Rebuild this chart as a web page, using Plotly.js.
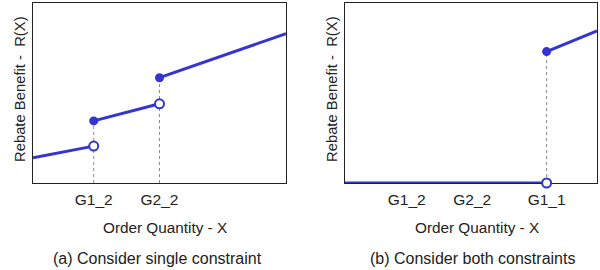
<!DOCTYPE html>
<html><head><meta charset="utf-8">
<script src="https://cdn.plot.ly/plotly-3.0.1.min.js"></script>
<style>html,body{margin:0;padding:0;background:#fff}#c{width:600px;height:270px}</style>
</head><body><div id="c"></div>
<script>
// Panel (a): single constraint
const aTickVals = [24, 50];
const aTickText = ['G1_2', 'G2_2'];
const aSeg1X = [0, 24],  aSeg1Y = [14, 20.5];
const aSeg2X = [24, 50], aSeg2Y = [34.5, 44];
const aSeg3X = [50, 100], aSeg3Y = [58.5, 83];
const aOpenX = [24, 50], aOpenY = [20.5, 44];
const aFillX = [24, 50], aFillY = [34.5, 58.5];

// Panel (b): both constraints
const bTickVals = [24.5, 50.5, 80];
const bTickText = ['G1_2', 'G2_2', 'G1_1'];
const bSeg1X = [0, 80],  bSeg1Y = [0, 0];
const bSeg2X = [80, 100], bSeg2Y = [73, 84.5];
const bOpenX = [80], bOpenY = [0];
const bFillX = [80], bFillY = [73];

const BLUE = '#3434d2';
const traces = [];
function guides(xs, ys, xa, ya){
  xs.forEach((x,i)=>traces.push({x:[x,x], y:[0, ys[i]], mode:'lines', xaxis:xa, yaxis:ya,
    line:{color:'#8a8a8a', width:1, dash:'dot'}, cliponaxis:false, hoverinfo:'skip'}));
}
function seg(x,y,xa,ya){traces.push({x:x,y:y,mode:'lines',xaxis:xa,yaxis:ya,line:{color:BLUE,width:3},cliponaxis:false});}
function pts(x,y,xa,ya,open){traces.push({x:x,y:y,mode:'markers',xaxis:xa,yaxis:ya,cliponaxis:false,
  marker:{size:9,color:open?'#ffffff':BLUE,line:{color:BLUE,width:open?2:0}}});}

guides(aFillX, aFillY, 'x', 'y');
seg(aSeg1X,aSeg1Y,'x','y'); seg(aSeg2X,aSeg2Y,'x','y'); seg(aSeg3X,aSeg3Y,'x','y');
pts(aFillX,aFillY,'x','y',false); pts(aOpenX,aOpenY,'x','y',true);

guides(bFillX, bFillY, 'x2', 'y2');
seg(bSeg1X,bSeg1Y,'x2','y2'); seg(bSeg2X,bSeg2Y,'x2','y2');
pts(bFillX,bFillY,'x2','y2',false); pts(bOpenX,bOpenY,'x2','y2',true);

const FONT = 'Liberation Sans, Arial, sans-serif';
const axBase = {showline:true, mirror:true, linecolor:'#222', linewidth:1, showgrid:false, zeroline:false,
  ticks:'', layer:'below traces', ticklabelstandoff:2, tickfont:{family:FONT, size:15.5, color:'#222'}, fixedrange:true};
const yDom = [87/270, 267/270];
function ann(text, px, py, size, angle){
  return {text:text, x:px/600, y:1-py/270, xref:'paper', yref:'paper', xanchor:'center', yanchor:'middle',
    showarrow:false, textangle:angle||0, font:{size:size, family:FONT, color:'#222'}};
}
const layout = {
  width:600, height:270, margin:{l:0,r:0,t:0,b:0}, showlegend:false,
  paper_bgcolor:'#fff', plot_bgcolor:'#fff', font:{family:FONT, color:'#222'},
  xaxis: Object.assign({}, axBase, {domain:[33/600, 286/600], range:[0,100], tickvals:aTickVals, ticktext:aTickText, anchor:'y'}),
  yaxis: Object.assign({}, axBase, {domain:yDom, range:[0,100], showticklabels:false, anchor:'x'}),
  xaxis2: Object.assign({}, axBase, {domain:[345/600, 597/600], range:[0,100], tickvals:bTickVals, ticktext:bTickText, anchor:'y2'}),
  yaxis2: Object.assign({}, axBase, {domain:yDom, range:[0,100], showticklabels:false, anchor:'x2'}),
  annotations: [
    ann('Order Quantity - X', 165, 227, 15.3),
    ann('(a) Consider single constraint', 158, 258, 16),
    ann('Rebate Benefit -  R(X)', 20, 89, 14.8, -90),
    ann('Order Quantity - X', 477, 227, 15.3),
    ann('(b) Consider both constraints', 472, 258, 16),
    ann('Rebate Benefit -  R(X)', 332, 89, 14.8, -90)
  ]
};
Plotly.newPlot('c', traces, layout, {staticPlot:true, displayModeBar:false});
</script></body></html>
